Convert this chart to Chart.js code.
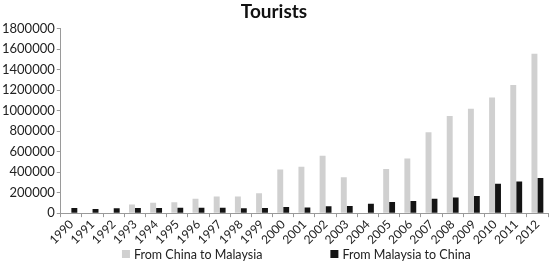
<!DOCTYPE html>
<html>
<head>
<meta charset="utf-8">
<script src="https://cdn.jsdelivr.net/npm/chart.js@4/dist/chart.umd.min.js"></script>
<style>
  html, body { margin: 0; padding: 0; background: #fff; }
  #wrap { width: 550px; height: 262px; position: relative; }
</style>
</head>
<body>
<div id="wrap"><canvas id="c" width="550" height="262"></canvas></div>
<script>
const years = ["1990","1991","1992","1993","1994","1995","1996","1997","1998","1999","2000","2001","2002","2003","2004","2005","2006","2007","2008","2009","2010","2011","2012"];
const chinaToMalaysia = [0,0,0,84000,101000,107000,140000,162000,162000,194000,427000,453000,560000,350000,0,431000,534000,790000,948000,1019000,1130000,1250000,1557000];
const malaysiaToChina = [50000,41000,47000,50000,50000,53000,53000,53000,47000,50000,60000,56000,66000,70000,92000,109000,118000,141000,153000,167000,286000,309000,342000];
const seriesNames = ["From China to Malaysia","From Malaysia to China"];
const seriesColors = ["#d0d0d0","#141414"];
const yTickValues = [0,200000,400000,600000,800000,1000000,1200000,1400000,1600000,1800000];
const chartTitle = "Tourists";

const FONT = "Lato, 'Open Sans', sans-serif";

const customLegend = {
  id: 'customLegend',
  afterDraw(chart) {
    const ctx = chart.ctx;
    const ds = chart.data.datasets;
    ctx.save();
    ctx.font = "12.5px " + FONT;
    ctx.textBaseline = 'middle';
    ctx.textAlign = 'left';
    const box = 8, gap = 4, spacing = 68;
    const widths = ds.map(d => box + gap + ctx.measureText(d.label).width);
    const total = widths.reduce((a, b) => a + b, 0) + spacing * (ds.length - 1);
    const ca = chart.chartArea;
    let x = (ca.left + ca.right) / 2 - 8 - total / 2;
    const y = chart.height - 8;
    ds.forEach((d, i) => {
      ctx.fillStyle = d.backgroundColor;
      ctx.fillRect(x, y - box / 2, box, box);
      ctx.fillStyle = '#222';
      ctx.fillText(d.label, x + box + gap, y + 0.5);
      x += widths[i] + spacing;
    });
    ctx.restore();
  }
};

new Chart(document.getElementById('c'), {
  type: 'bar',
  data: {
    labels: years,
    datasets: [
      { label: seriesNames[0], data: chinaToMalaysia, backgroundColor: seriesColors[0], borderWidth: 0 },
      { label: seriesNames[1], data: malaysiaToChina, backgroundColor: seriesColors[1], borderWidth: 0 }
    ]
  },
  options: {
    responsive: false,
    animation: false,
    devicePixelRatio: 1,
    layout: { padding: { left: 0, right: 2, top: 0, bottom: 15 } },
    datasets: { bar: { categoryPercentage: 0.56, barPercentage: 1.0 } },
    plugins: {
      legend: { display: false },
      tooltip: { enabled: false },
      title: {
        display: true,
        text: chartTitle,
        color: '#111',
        font: { family: FONT, size: 19, weight: 'bold' },
        padding: { top: 0, bottom: 6 }
      }
    },
    scales: {
      x: {
        grid: { display: true, drawOnChartArea: false, drawTicks: true, tickLength: 4, color: '#9a9a9a', offset: true },
        border: { display: true, color: '#9a9a9a', width: 1 },
        ticks: {
          color: '#222', font: { family: FONT, size: 12 },
          minRotation: 45, maxRotation: 45, autoSkip: false, padding: 0
        }
      },
      y: {
        min: 0, max: 1800000,
        afterBuildTicks(axis) { axis.ticks = yTickValues.map(v => ({ value: v })); },
        grid: { display: true, drawOnChartArea: false, drawTicks: true, tickLength: 4, color: '#9a9a9a' },
        border: { display: true, color: '#9a9a9a', width: 1 },
        ticks: {
          color: '#222', font: { family: FONT, size: 13 }, padding: 2,
          callback: (v) => String(v)
        }
      }
    }
  },
  plugins: [customLegend]
});
</script>
</body>
</html>
